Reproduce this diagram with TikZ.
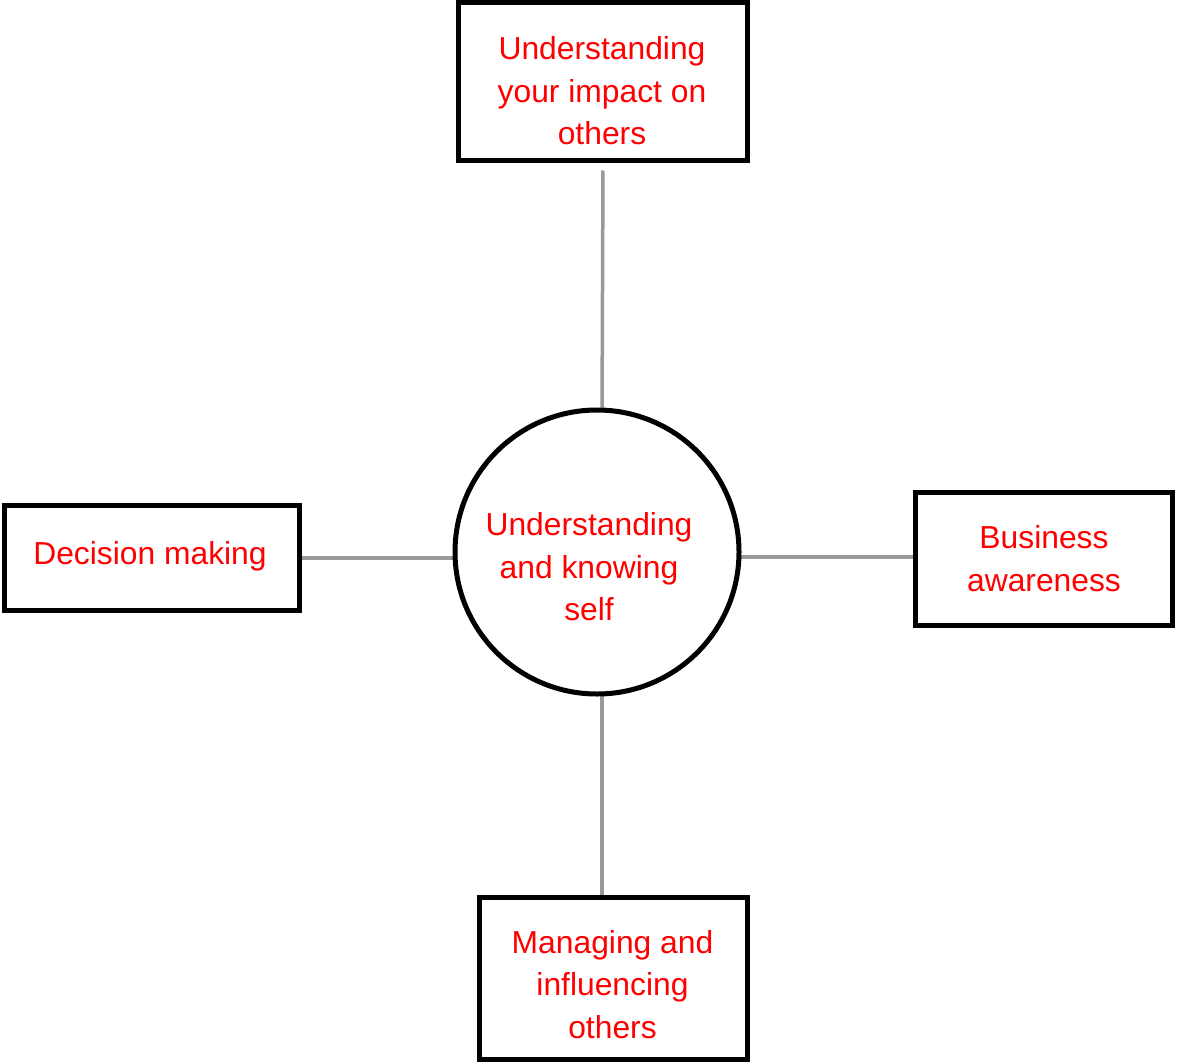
\documentclass[tikz,border=0pt]{standalone}
\usepackage{fontspec}
\setmainfont{Liberation Sans}
\usetikzlibrary{positioning,backgrounds}
\definecolor{linkgray}{HTML}{999999}
\tikzset{
    box/.style={
           rectangle,
           draw=black, line width=5pt,
           inner sep=0pt,
           },
    hub/.style={
           circle,
           draw=black, line width=5pt,
           minimum size=284pt,
           inner sep=0pt,
           },
    txt/.style={
           align=center,
           text=red,
           inner sep=0pt,
           font=\fontsize{31.8}{42.5}\selectfont,
           },
    link/.style={
           -,
           draw=linkgray,
           line width=3.5pt,
           }
}
\begin{document}
\begin{tikzpicture}[x=1pt,y=-1pt]
\useasboundingbox (0,0) rectangle (1177,1062);
\node[hub] (self) at (597,552) {};
\node[box, minimum width=289pt, minimum height=158pt] (impact) at (603,81.5) {};
\node[box, minimum width=295pt, minimum height=104.5pt] (decision) at (151.7,558) {};
\node[box, minimum width=257.5pt, minimum height=133.5pt] (business) at (1044,559) {};
\node[box, minimum width=267.7pt, minimum height=161.7pt] (influence) at (613.7,978.3) {};
\node[txt] (self-t) at (589,567) {Understanding\\and knowing\\self};
\node[txt] (impact-t) at (602,91) {Understanding\\your impact on\\others};
\node[txt] (decision-t) at (150,556) {Decision making};
\node[txt] (business-t) at (1044,558.5) {Business\\awareness};
\node[txt] (influence-t) at (612.5,984.5) {Managing and\\influencing\\others};
\begin{scope}[on background layer]
\path (impact.south) edge[link, shorten <=7.5pt] (self.88);
\path (decision.east) edge[link] (decision.east -| self.west);
\path (self.-2) edge[link] (self.-2 -| business.west);
\path (self.-88) edge[link] (self.-88 |- influence.north);
\end{scope}
\end{tikzpicture}
\end{document}
